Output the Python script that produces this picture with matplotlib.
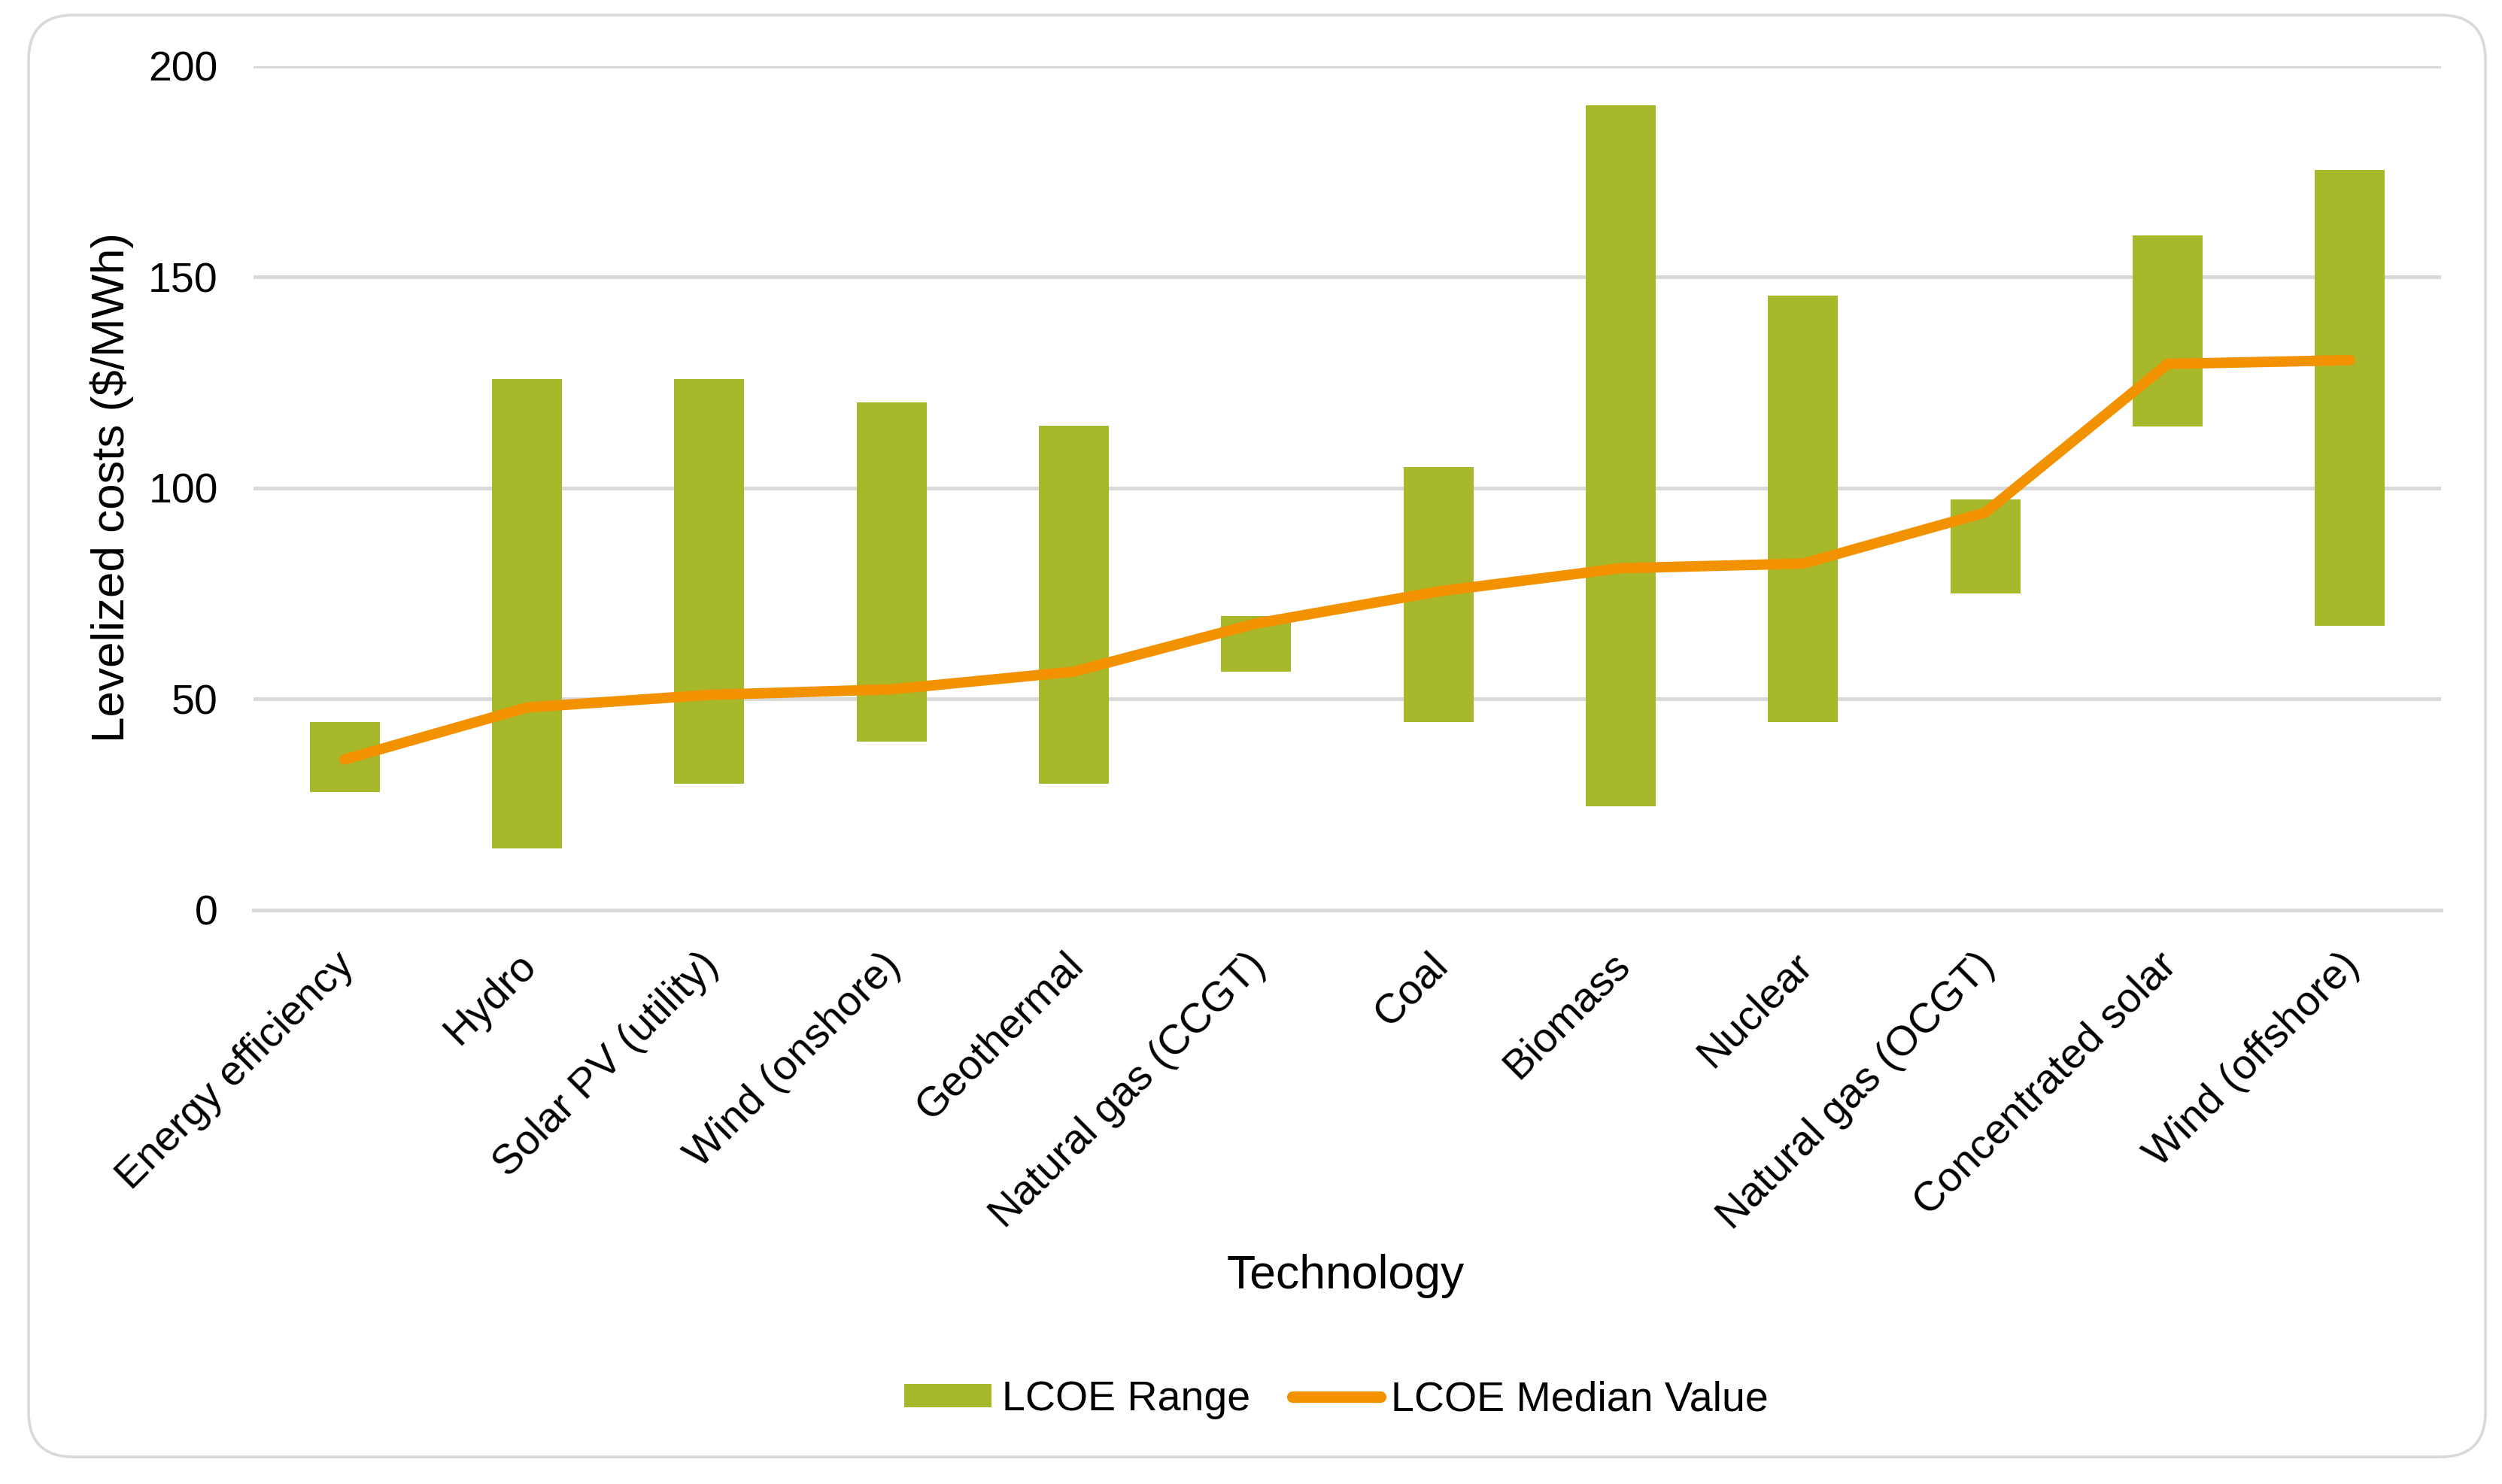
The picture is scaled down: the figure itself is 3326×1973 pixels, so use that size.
import matplotlib
matplotlib.use("Agg")
import matplotlib.pyplot as plt
from matplotlib.patches import Patch, FancyBboxPatch
from matplotlib.lines import Line2D
from matplotlib.transforms import IdentityTransform, ScaledTranslation
import numpy as np

# LCOE by technology ($/MWh)
technologies = [
    "Energy efficiency", "Hydro", "Solar PV (utility)", "Wind (onshore)",
    "Geothermal", "Natural gas (CCGT)", "Coal", "Biomass", "Nuclear",
    "Natural gas (OCGT)", "Concentrated solar", "Wind (offshore)",
]
range_low = [28, 14.7, 30, 40, 30, 56.5, 44.5, 24.6, 44.5, 75, 114.6, 67.3]
range_high = [44.5, 125.9, 125.9, 120.3, 114.8, 69.7, 105, 190.6, 145.6, 97.3, 159.8, 175.4]
median_value = [35.7, 48, 51, 52.3, 56.5, 67.9, 75.5, 81, 82.1, 94.2, 129.4, 130.3]
y_ticks = [0, 50, 100, 150, 200]

GREEN = "#A7B82A"
ORANGE = "#F39200"
GRID = "#D9D9D9"

plt.rcParams["font.family"] = ["Liberation Sans", "DejaVu Sans"]

W, H, DPI = 3326, 1973, 200
fig = plt.figure(figsize=(W / DPI, H / DPI), dpi=DPI)

# rounded chart-area border
border = FancyBboxPatch((38, 36), 3304 - 38, 1953 - 36,
                        boxstyle="round,pad=0,rounding_size=60",
                        transform=IdentityTransform(), facecolor="none",
                        edgecolor=GRID, linewidth=1.3, zorder=-1)
fig.patches.append(border)

ax = fig.add_axes([337 / W, 1 - 1210 / H, (3245 - 337) / W, (1210 - 87.7) / H])
ax.set_facecolor("none")

x = np.arange(len(technologies))
low = np.array(range_low)
high = np.array(range_high)
ax.bar(x, high - low, bottom=low, width=0.384, color=GREEN, zorder=2)
ax.plot(x, median_value, color=ORANGE, linewidth=5, solid_capstyle="round",
        solid_joinstyle="round", zorder=3)

ax.set_xlim(-0.5, len(technologies) - 0.5)
ax.set_ylim(0, 200)
ax.set_yticks(y_ticks)
ax.yaxis.grid(True, color=GRID, linewidth=1.8, zorder=0)
ax.set_axisbelow(True)
for spine in ["top", "right", "left"]:
    ax.spines[spine].set_visible(False)
ax.spines["bottom"].set_color(GRID)
ax.spines["bottom"].set_linewidth(1.8)

ax.tick_params(axis="both", length=0, labelsize=20, colors="black")
ax.tick_params(axis="y", pad=17)
ax.tick_params(axis="x", pad=17)
ax.set_xticks(x)
ax.set_xticklabels(technologies, rotation=45, ha="right", va="top",
                   rotation_mode="anchor")
shift = ScaledTranslation(-14 / DPI, 0, fig.dpi_scale_trans)
for lbl in ax.get_xticklabels():
    lbl.set_transform(lbl.get_transform() + shift)

ax.set_ylabel("Levelized costs ($/MWh)", fontsize=22.3)
ax.yaxis.set_label_coords((149 - 337) / (3245 - 337), (1210 - 648) / (1210 - 87.7))
ax.yaxis.label.set_va("center")
ax.set_xlabel("Technology", fontsize=22.5)
ax.xaxis.set_label_coords((1789 - 337) / (3245 - 337), (1210 - 1713) / (1210 - 87.7))
ax.xaxis.label.set_va("baseline")

handles = [
    Patch(facecolor=GREEN, edgecolor="none", label="LCOE Range"),
    Line2D([0], [0], color=ORANGE, linewidth=5.5, solid_capstyle="round", label="LCOE Median Value"),
]
fig.legend(handles=handles, loc="center", ncol=2, frameon=False, fontsize=20,
           bbox_to_anchor=(1776 / W, 1 - 1861 / H), handlelength=2.1,
           handleheight=0.47, handletextpad=0.25, columnspacing=1.0)

fig.savefig("out.png", dpi=DPI)
